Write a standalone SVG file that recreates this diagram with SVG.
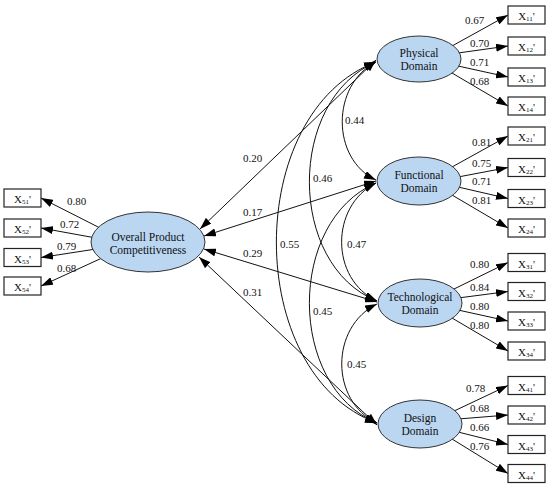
<svg xmlns="http://www.w3.org/2000/svg" width="550" height="487" viewBox="0 0 550 487">
<style>
.bg{fill:#ffffff}
.lat{fill:#bad6f1;stroke:#333;stroke-width:1}
.box{fill:#fff;stroke:#222;stroke-width:1.2}
.ln{fill:none;stroke:#111;stroke-width:1}
.t{font-family:"Liberation Serif","Times New Roman",serif;font-size:11px;fill:#111}
.n{font-family:"Liberation Serif","Times New Roman",serif;font-size:11.5px;fill:#111;text-anchor:middle}
.x{font-family:"Liberation Serif","Times New Roman",serif;font-size:11px;fill:#111;text-anchor:middle}
.s{font-size:7px}
</style>
<defs>
<marker id="ah" markerUnits="userSpaceOnUse" markerWidth="12" markerHeight="8" refX="12" refY="4" orient="auto-start-reverse">
<path d="M0,0 L12,4 L0,8 z" fill="#000"/>
</marker>
</defs>
<rect class="bg" width="550" height="487"/>
<g id="connectors">
<!-- loadings: Physical -->
<line class="ln" x1="452" y1="46" x2="508" y2="15" marker-end="url(#ah)"/>
<line class="ln" x1="458" y1="53" x2="508" y2="46" marker-end="url(#ah)"/>
<line class="ln" x1="458" y1="66" x2="508" y2="77" marker-end="url(#ah)"/>
<line class="ln" x1="452" y1="73" x2="508" y2="106" marker-end="url(#ah)"/>
<!-- Functional -->
<line class="ln" x1="452" y1="167" x2="508" y2="136" marker-end="url(#ah)"/>
<line class="ln" x1="458" y1="177" x2="508" y2="167.5" marker-end="url(#ah)"/>
<line class="ln" x1="458" y1="187" x2="508" y2="198.5" marker-end="url(#ah)"/>
<line class="ln" x1="452" y1="195" x2="508" y2="228" marker-end="url(#ah)"/>
<!-- Technological -->
<line class="ln" x1="452" y1="290" x2="508" y2="262.5" marker-end="url(#ah)"/>
<line class="ln" x1="458" y1="298" x2="508" y2="291.5" marker-end="url(#ah)"/>
<line class="ln" x1="458" y1="310" x2="508" y2="321" marker-end="url(#ah)"/>
<line class="ln" x1="452" y1="318" x2="508" y2="351" marker-end="url(#ah)"/>
<!-- Design -->
<line class="ln" x1="452" y1="412" x2="508" y2="385.5" marker-end="url(#ah)"/>
<line class="ln" x1="458" y1="419" x2="508" y2="415" marker-end="url(#ah)"/>
<line class="ln" x1="458" y1="432" x2="508" y2="444.5" marker-end="url(#ah)"/>
<line class="ln" x1="452" y1="439" x2="508" y2="473.5" marker-end="url(#ah)"/>
<!-- Overall -->
<line class="ln" x1="102" y1="229" x2="41" y2="198" marker-end="url(#ah)"/>
<line class="ln" x1="96" y1="238" x2="41" y2="228" marker-end="url(#ah)"/>
<line class="ln" x1="96" y1="249" x2="41" y2="257.5" marker-end="url(#ah)"/>
<line class="ln" x1="102" y1="258" x2="41" y2="286" marker-end="url(#ah)"/>
<!-- straight correlations Overall-domains -->
<line class="ln" x1="200" y1="229" x2="376" y2="60" marker-start="url(#ah)" marker-end="url(#ah)"/>
<line class="ln" x1="204" y1="236" x2="376" y2="181" marker-start="url(#ah)" marker-end="url(#ah)"/>
<line class="ln" x1="204" y1="249" x2="377" y2="302" marker-start="url(#ah)" marker-end="url(#ah)"/>
<line class="ln" x1="199" y1="257" x2="377" y2="425" marker-start="url(#ah)" marker-end="url(#ah)"/>
<!-- curved correlations -->
<path class="ln" d="M376,62 C331,85 331,159 376,180" marker-start="url(#ah)" marker-end="url(#ah)"/>
<path class="ln" d="M376,183 C330,206 330,279 377,301" marker-start="url(#ah)" marker-end="url(#ah)"/>
<path class="ln" d="M377,304 C330,327 330,401 377,423" marker-start="url(#ah)" marker-end="url(#ah)"/>
<path class="ln" d="M376,62 C287,100 287,265 377,301" marker-start="url(#ah)" marker-end="url(#ah)"/>
<path class="ln" d="M376,183 C287,221 287,386 377,423" marker-start="url(#ah)" marker-end="url(#ah)"/>
<path class="ln" d="M376,62 C243,112 243,374 377,423" marker-start="url(#ah)" marker-end="url(#ah)"/>
</g>
<g id="labels">
<text class="t" x="465" y="24">0.67</text>
<text class="t" x="470" y="47">0.70</text>
<text class="t" x="470" y="66">0.71</text>
<text class="t" x="470" y="85">0.68</text>
<text class="t" x="472" y="146">0.81</text>
<text class="t" x="472" y="167">0.75</text>
<text class="t" x="472" y="185">0.71</text>
<text class="t" x="472" y="204">0.81</text>
<text class="t" x="470" y="268">0.80</text>
<text class="t" x="470" y="291">0.84</text>
<text class="t" x="470" y="310">0.80</text>
<text class="t" x="470" y="329">0.80</text>
<text class="t" x="466" y="392">0.78</text>
<text class="t" x="470" y="412">0.68</text>
<text class="t" x="470" y="431">0.66</text>
<text class="t" x="470" y="450">0.76</text>
<text class="t" x="67" y="205">0.80</text>
<text class="t" x="60" y="228">0.72</text>
<text class="t" x="57" y="250">0.79</text>
<text class="t" x="57" y="272">0.68</text>
<text class="t" x="243" y="162">0.20</text>
<text class="t" x="243" y="216">0.17</text>
<text class="t" x="243" y="257">0.29</text>
<text class="t" x="243" y="296">0.31</text>
<text class="t" x="345" y="124">0.44</text>
<text class="t" x="313" y="182">0.46</text>
<text class="t" x="280" y="248">0.55</text>
<text class="t" x="347" y="248">0.47</text>
<text class="t" x="313" y="315">0.45</text>
<text class="t" x="347" y="368">0.45</text>
</g>
<g id="physical">
<ellipse class="lat" cx="419" cy="59" rx="42" ry="23"/>
<text class="n" x="419" y="57">Physical</text>
<text class="n" x="419" y="70">Domain</text>
</g>
<g id="functional">
<ellipse class="lat" cx="419" cy="181" rx="42" ry="24"/>
<text class="n" x="419" y="179">Functional</text>
<text class="n" x="419" y="192">Domain</text>
</g>
<g id="technological">
<ellipse class="lat" cx="420" cy="303" rx="42" ry="24"/>
<text class="n" x="420" y="301">Technological</text>
<text class="n" x="420" y="314">Domain</text>
</g>
<g id="design">
<ellipse class="lat" cx="420" cy="424" rx="42" ry="24"/>
<text class="n" x="420" y="422">Design</text>
<text class="n" x="420" y="435">Domain</text>
</g>
<g id="overall">
<ellipse class="lat" cx="148" cy="242" rx="57" ry="30"/>
<text class="n" x="148" y="241">Overall Product</text>
<text class="n" x="148" y="254">Competitiveness</text>
</g>
<g id="x11"><rect class="box" x="508" y="6" width="37" height="18"/><text class="x" x="526.5" y="20">X<tspan class="s" dy="1">11</tspan><tspan dy="-1">'</tspan></text></g>
<g id="x12"><rect class="box" x="508" y="37" width="37" height="18"/><text class="x" x="526.5" y="51">X<tspan class="s" dy="1">12</tspan><tspan dy="-1">'</tspan></text></g>
<g id="x13"><rect class="box" x="508" y="68" width="37" height="18"/><text class="x" x="526.5" y="82">X<tspan class="s" dy="1">13</tspan><tspan dy="-1">'</tspan></text></g>
<g id="x14"><rect class="box" x="508" y="97" width="37" height="18"/><text class="x" x="526.5" y="111">X<tspan class="s" dy="1">14</tspan><tspan dy="-1">'</tspan></text></g>
<g id="x21"><rect class="box" x="508" y="127" width="37" height="18"/><text class="x" x="526.5" y="141">X<tspan class="s" dy="1">21</tspan><tspan dy="-1">'</tspan></text></g>
<g id="x22"><rect class="box" x="508" y="158.5" width="37" height="18"/><text class="x" x="526.5" y="172.5">X<tspan class="s" dy="1">22</tspan><tspan dy="-1">'</tspan></text></g>
<g id="x23"><rect class="box" x="508" y="189.5" width="37" height="18"/><text class="x" x="526.5" y="203.5">X<tspan class="s" dy="1">23</tspan><tspan dy="-1">'</tspan></text></g>
<g id="x24"><rect class="box" x="508" y="219" width="37" height="18"/><text class="x" x="526.5" y="233">X<tspan class="s" dy="1">24</tspan><tspan dy="-1">'</tspan></text></g>
<g id="x31"><rect class="box" x="508" y="253.5" width="37" height="18"/><text class="x" x="526.5" y="267.5">X<tspan class="s" dy="1">31</tspan><tspan dy="-1">'</tspan></text></g>
<g id="x32"><rect class="box" x="508" y="282.5" width="37" height="18"/><text class="x" x="526.5" y="296.5">X<tspan class="s" dy="1">32</tspan><tspan dy="-1">'</tspan></text></g>
<g id="x33"><rect class="box" x="508" y="312" width="37" height="18"/><text class="x" x="526.5" y="326">X<tspan class="s" dy="1">33</tspan><tspan dy="-1">'</tspan></text></g>
<g id="x34"><rect class="box" x="508" y="342" width="37" height="18"/><text class="x" x="526.5" y="356">X<tspan class="s" dy="1">34</tspan><tspan dy="-1">'</tspan></text></g>
<g id="x41"><rect class="box" x="508" y="376.5" width="37" height="18"/><text class="x" x="526.5" y="390.5">X<tspan class="s" dy="1">41</tspan><tspan dy="-1">'</tspan></text></g>
<g id="x42"><rect class="box" x="508" y="406" width="37" height="18"/><text class="x" x="526.5" y="420">X<tspan class="s" dy="1">42</tspan><tspan dy="-1">'</tspan></text></g>
<g id="x43"><rect class="box" x="508" y="435.5" width="37" height="18"/><text class="x" x="526.5" y="449.5">X<tspan class="s" dy="1">43</tspan><tspan dy="-1">'</tspan></text></g>
<g id="x44"><rect class="box" x="508" y="464.5" width="37" height="18"/><text class="x" x="526.5" y="478.5">X<tspan class="s" dy="1">44</tspan><tspan dy="-1">'</tspan></text></g>
<g id="x51"><rect class="box" x="4" y="189" width="37" height="18"/><text class="x" x="22.5" y="203">X<tspan class="s" dy="1">51</tspan><tspan dy="-1">'</tspan></text></g>
<g id="x52"><rect class="box" x="4" y="219" width="37" height="18"/><text class="x" x="22.5" y="233">X<tspan class="s" dy="1">52</tspan><tspan dy="-1">'</tspan></text></g>
<g id="x53"><rect class="box" x="4" y="248.5" width="37" height="18"/><text class="x" x="22.5" y="262.5">X<tspan class="s" dy="1">53</tspan><tspan dy="-1">'</tspan></text></g>
<g id="x54"><rect class="box" x="4" y="277" width="37" height="18"/><text class="x" x="22.5" y="291">X<tspan class="s" dy="1">54</tspan><tspan dy="-1">'</tspan></text></g>
</svg>
